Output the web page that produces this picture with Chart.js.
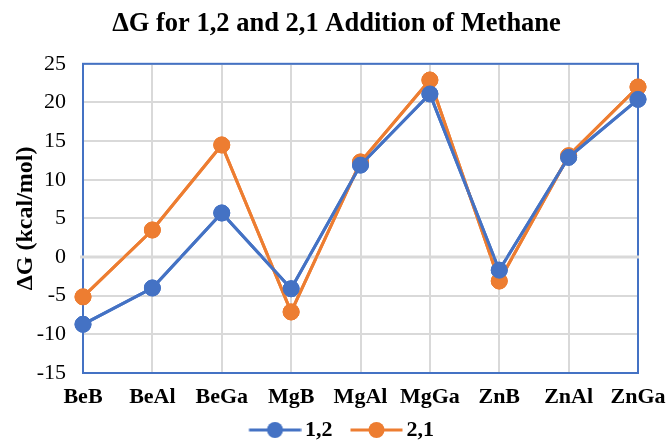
<!DOCTYPE html>
<html>
<head>
<meta charset="utf-8">
<script src="https://cdn.jsdelivr.net/npm/chart.js@4"></script>
<style>
html,body{margin:0;padding:0;background:#fff;}
#wrap{width:667px;height:443px;position:relative;}
</style>
</head>
<body>
<div id="wrap"><canvas id="c" width="667" height="443"></canvas></div>
<script>
const categories = ["BeB","BeAl","BeGa","MgB","MgAl","MgGa","ZnB","ZnAl","ZnGa"];
const series12 = [-8.7, -4.0, 5.7, -4.1, 11.9, 21.1, -1.7, 12.9, 20.4];
const series21 = [-5.15, 3.5, 14.5, -7.1, 12.3, 22.9, -3.1, 13.1, 22.0];
const seriesNames = ["1,2", "2,1"];
const yTicks = [-15,-10,-5,0,5,10,15,20,25];

const BLUE = "#4472C4", ORANGE = "#ED7D31";
const FONT = "'Liberation Serif','Times New Roman',serif";

function legendIcon(color){
  const cv = document.createElement('canvas');
  cv.width = 70; cv.height = 18;
  const g = cv.getContext('2d');
  const o = 17.5;
  g.strokeStyle = color; g.lineWidth = 3;
  g.beginPath(); g.moveTo(o,9); g.lineTo(o+52,9); g.stroke();
  g.fillStyle = color;
  g.beginPath(); g.arc(o+26,9,8,0,Math.PI*2); g.fill();
  return cv;
}

const borderPlugin = {
  id:'plotBorder',
  afterDraw(chart){
    const a = chart.chartArea, ctx = chart.ctx;
    ctx.save();
    ctx.strokeStyle = BLUE; ctx.lineWidth = 2;
    ctx.strokeRect(a.left, a.top, a.right-a.left, a.bottom-a.top);
    const y0 = chart.scales.y.getPixelForValue(0);
    ctx.strokeStyle = "#d9d9d9"; ctx.lineWidth = 3;
    ctx.beginPath(); ctx.moveTo(a.left-3, y0); ctx.lineTo(a.right+1, y0); ctx.stroke();
    ctx.restore();
    chart.getSortedVisibleDatasetMetas().slice().reverse().forEach(m=>m.controller.draw());
  }
};

new Chart(document.getElementById('c'), {
  type:'line',
  data:{
    labels: categories,
    datasets:[
      {label: seriesNames[0], data: series12, borderColor: BLUE, backgroundColor: BLUE,
       pointBackgroundColor: BLUE, pointBorderColor: BLUE, borderWidth: 3, pointRadius: 8, pointBorderWidth: 1, pointHoverRadius: 8, tension:0},
      {label: seriesNames[1], data: series21, borderColor: ORANGE, backgroundColor: ORANGE,
       pointBackgroundColor: ORANGE, pointBorderColor: ORANGE, borderWidth: 3, pointRadius: 8, pointBorderWidth: 1, pointHoverRadius: 8, tension:0}
    ]
  },
  options:{
    responsive:false,
    animation:false,
    devicePixelRatio:1,
    layout:{padding:{left:35,right:29,top:0,bottom:-8}},
    plugins:{
      title:{display:true, text:"ΔG for 1,2 and 2,1 Addition of Methane", color:"#000",
        font:{family:FONT, size:26.5, weight:'bold'}, padding:{top:8,bottom:24}},
      legend:{position:'bottom', labels:{
        color:"#000", font:{family:FONT, size:22, weight:'bold'},
        usePointStyle:true, pointStyleWidth:55, boxHeight:18, padding:8,
        generateLabels(chart){
          return chart.data.datasets.map((ds,i)=>({
            text: ds.label, pointStyle: legendIcon(ds.borderColor),
            fillStyle: ds.borderColor, strokeStyle: ds.borderColor, lineWidth:0,
            datasetIndex:i, hidden:false, fontColor:"#000"
          }));
        }
      }},
      tooltip:{enabled:false}
    },
    scales:{
      x:{offset:false,
        afterFit(s){ s.height = 38; s.paddingRight = 0; s.paddingLeft = 0; },
        grid:{color:"#d9d9d9", lineWidth:2, drawTicks:false},
        border:{display:false},
        ticks:{color:"#000", font:{family:FONT, size:22, weight:'bold'}, padding:11, maxRotation:0, autoSkip:false}
      },
      y:{min:-15, max:25,
        afterBuildTicks(s){ s.ticks = yTicks.map(v=>({value:v})); },
        afterFit(s){ s.width = 48; s.paddingTop = 0; s.paddingBottom = 0; },
        grid:{color:"#d9d9d9", lineWidth:2, drawTicks:false},
        border:{display:false},
        ticks:{color:"#000", font:{family:FONT, size:22}, padding:17},
        title:{display:true, text:"ΔG (kcal/mol)", color:"#000", font:{family:FONT, size:24, weight:'bold'}, padding:{top:-23.5,bottom:0}}
      }
    }
  },
  plugins:[borderPlugin]
});
</script>
</body>
</html>
